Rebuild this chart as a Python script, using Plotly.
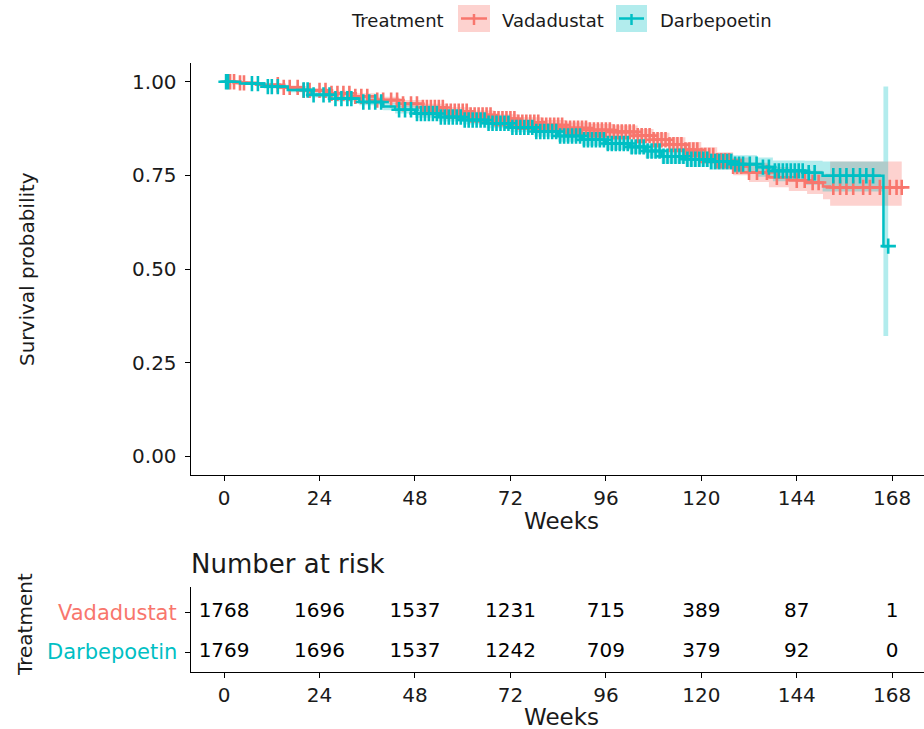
import numpy as np
import plotly.graph_objects as go

# ---------------- data ----------------
groups = ["Vadadustat", "Darbepoetin"]
colors = {"Vadadustat": "#F8766D", "Darbepoetin": "#00BFC4"}
fills = {"Vadadustat": "rgba(248,118,109,0.33)", "Darbepoetin": "rgba(0,191,196,0.30)"}

vad_time = [0, 3, 8, 14, 20, 26, 32, 38, 44, 50, 56, 62, 68, 74, 80, 86, 92, 98, 104, 108,
            112, 116, 120, 124, 128, 132, 137, 142, 146.6, 150.6, 152.4, 170.4]
vad_surv = [1.0, 0.997, 0.992, 0.985, 0.977, 0.969, 0.961, 0.951, 0.941, 0.931, 0.921, 0.911,
            0.901, 0.892, 0.884, 0.876, 0.871, 0.866, 0.856, 0.845, 0.832, 0.818, 0.803, 0.789,
            0.774, 0.758, 0.745, 0.737, 0.731, 0.720, 0.718, 0.718]
vad_lower = [1.0, 0.995, 0.988, 0.980, 0.971, 0.962, 0.953, 0.942, 0.931, 0.921, 0.910, 0.899,
             0.889, 0.879, 0.870, 0.861, 0.855, 0.849, 0.838, 0.826, 0.812, 0.797, 0.781, 0.766,
             0.750, 0.732, 0.718, 0.708, 0.700, 0.686, 0.669, 0.669]
vad_upper = [1.0, 0.999, 0.996, 0.990, 0.983, 0.976, 0.969, 0.960, 0.951, 0.941, 0.932, 0.923,
             0.913, 0.905, 0.898, 0.891, 0.887, 0.883, 0.874, 0.864, 0.852, 0.839, 0.825, 0.812,
             0.798, 0.784, 0.772, 0.766, 0.762, 0.754, 0.787, 0.787]

dar_time = [0, 4, 10, 16, 22, 28, 34, 40, 43, 48, 54, 60, 66, 72, 78, 84, 90, 96, 102, 106,
            110, 116, 122, 128, 134, 138, 146, 150.5, 165.8, 167.0]
dar_surv = [1.0, 0.995, 0.987, 0.978, 0.965, 0.955, 0.946, 0.934, 0.925, 0.915, 0.906, 0.898,
            0.889, 0.878, 0.867, 0.855, 0.845, 0.835, 0.826, 0.815, 0.801, 0.793, 0.787, 0.780,
            0.772, 0.762, 0.757, 0.749, 0.561, 0.561]
dar_lower = [1.0, 0.992, 0.982, 0.972, 0.958, 0.947, 0.937, 0.924, 0.915, 0.904, 0.894, 0.886,
             0.876, 0.865, 0.853, 0.840, 0.829, 0.818, 0.808, 0.796, 0.781, 0.772, 0.765, 0.756,
             0.746, 0.734, 0.725, 0.707, 0.321, 0.321]
dar_upper = [1.0, 0.998, 0.992, 0.984, 0.972, 0.963, 0.955, 0.944, 0.935, 0.926, 0.918, 0.910,
             0.902, 0.891, 0.881, 0.870, 0.861, 0.852, 0.844, 0.834, 0.821, 0.814, 0.809, 0.804,
             0.798, 0.790, 0.789, 0.787, 0.987, 0.987]

vad_censor = [1.5, 2.5, 4.0, 5.0, 13.5, 15.0, 16.5, 18.5, 20.0, 21.5, 24.0, 25.5, 27.0, 28.5,
              30.0, 31.5, 33.0, 34.5, 36.0, 38.5, 40.0, 42.0, 43.5, 45.0, 47.0, 48.5, 50.0,
              51.0, 52.0, 53.0, 54.0, 55.0, 56.0, 57.0, 58.0, 59.0, 60.0, 61.0, 62.0, 63.0,
              64.0, 65.0, 66.0, 67.0, 68.0, 69.0, 70.0, 71.0, 72.0, 73.0, 74.0, 75.0, 76.0,
              77.0, 78.0, 79.0, 80.0, 81.0, 82.0, 83.0, 84.0, 85.0, 86.0, 87.0, 88.0, 89.0,
              90.0, 91.0, 92.0, 93.0, 94.0, 95.0, 96.0, 97.0, 98.0, 99.0, 100.0, 101.0, 102.0,
              103.0, 104.0, 105.0, 106.0, 107.0, 108.0, 109.0, 110.0, 111.0, 112.0, 113.0,
              114.0, 115.0, 116.0, 117.0, 118.0, 119.0, 120.0, 121.0, 122.0, 123.0, 124.0,
              125.0, 126.0, 127.0, 128.0, 129.0, 130.0, 132.0, 134.0, 136.5, 139.0, 141.5,
              144.0, 146.0, 148.0, 149.5, 153.2, 154.9, 156.5, 158.2, 160.7, 162.4, 164.9,
              167.4, 169.1, 170.4]
dar_censor = [0.5, 1.0, 7.0, 8.5, 11.0, 12.0, 13.5, 20.0, 21.0, 22.5, 25.0, 26.5, 28.0, 29.5,
              31.0, 32.0, 35.0, 36.5, 38.0, 39.5, 44.0, 45.5, 47.0, 48.5, 49.5, 50.5, 51.5,
              52.5, 53.5, 54.5, 55.5, 56.5, 57.5, 58.5, 59.5, 60.5, 61.5, 62.5, 63.5, 64.5,
              65.5, 66.5, 67.5, 68.5, 69.5, 70.5, 71.5, 72.5, 73.5, 74.5, 75.5, 76.5, 77.5,
              78.5, 79.5, 80.5, 81.5, 82.5, 83.5, 84.5, 85.5, 86.5, 87.5, 88.5, 89.5, 90.5,
              91.5, 92.5, 93.5, 94.5, 95.5, 96.5, 97.5, 98.5, 99.5, 100.5, 101.5, 102.5,
              103.5, 104.5, 105.5, 106.5, 107.5, 108.5, 109.5, 110.5, 111.5, 112.5, 113.5,
              114.5, 115.5, 116.5, 117.5, 118.5, 119.5, 120.5, 121.5, 122.5, 123.5, 124.5,
              125.5, 126.5, 127.5, 128.5, 129.5, 130.5, 132.2, 133.9, 135.5, 137.0, 138.5,
              139.5, 140.5, 141.5, 142.5, 143.5, 144.5, 145.5, 147.0, 148.5, 153.2, 154.9,
              156.5, 158.2, 159.9, 161.5, 163.2, 167.0]

risk_times = [0, 24, 48, 72, 96, 120, 144, 168]
vad_risk = [1768, 1696, 1537, 1231, 715, 389, 87, 1]
dar_risk = [1769, 1696, 1537, 1242, 709, 379, 92, 0]

week_ticks = [0, 24, 48, 72, 96, 120, 144, 168]
surv_ticks = [0, 0.25, 0.5, 0.75, 1.0]
surv_ticklabels = ["0.00", "0.25", "0.50", "0.75", "1.00"]

curves = {
    "Vadadustat": (vad_time, vad_surv, vad_lower, vad_upper, vad_censor, vad_risk),
    "Darbepoetin": (dar_time, dar_surv, dar_lower, dar_upper, dar_censor, dar_risk),
}

# ---------------- layout geometry ----------------
W, H = 924, 729
FONT = "DejaVu Sans"
def px(x):
    return x / W
def py(y):
    return 1 - y / H

x_dom = [px(190.7), 1.0]
x_range = [-8.4, 176.0]

fig = go.Figure()

# confidence bands
for g in groups:
    t, s, lo, hi, cen, risk = curves[g]
    fig.add_trace(go.Scatter(x=t, y=lo, mode="lines", line=dict(width=0, shape="hv"),
                             hoverinfo="skip", showlegend=False, xaxis="x", yaxis="y"))
    fig.add_trace(go.Scatter(x=t, y=hi, mode="lines", line=dict(width=0, shape="hv"),
                             fill="tonexty", fillcolor=fills[g], hoverinfo="skip",
                             showlegend=False, xaxis="x", yaxis="y"))

# survival step lines and censor marks
for g in groups:
    t, s, lo, hi, cen, risk = curves[g]
    fig.add_trace(go.Scatter(x=t, y=s, mode="lines", line=dict(color=colors[g], width=2.5, shape="hv"),
                             name=g, showlegend=False, xaxis="x", yaxis="y"))
    ta = np.array(t)
    sa = np.array(s)
    idx = np.searchsorted(ta, np.array(cen), side="right") - 1
    fig.add_trace(go.Scatter(x=cen, y=sa[idx], mode="markers",
                             marker=dict(symbol="cross-thin", size=11, line=dict(color=colors[g], width=2.6)),
                             showlegend=False, hoverinfo="skip", xaxis="x", yaxis="y"))

# risk table numbers
row_pos = {"Vadadustat": 2, "Darbepoetin": 1}
for g in groups:
    risk = curves[g][5]
    fig.add_trace(go.Scatter(x=risk_times, y=[row_pos[g]] * len(risk_times), mode="text",
                             text=[str(v) for v in risk], textposition="middle center",
                             textfont=dict(family=FONT, size=20, color="black"),
                             showlegend=False, hoverinfo="skip", xaxis="x2", yaxis="y2"))

axis_common = dict(showgrid=False, zeroline=False, showline=True, linecolor="black", linewidth=1.2,
                   ticks="outside", ticklen=5, tickwidth=1.1, tickcolor="black",
                   tickfont=dict(family=FONT, size=20, color="#1a1a1a"))

fig.update_layout(
    width=W, height=H, margin=dict(l=0, r=0, t=0, b=0),
    paper_bgcolor="white", plot_bgcolor="white", showlegend=False,
    xaxis=dict(domain=x_dom, range=x_range, tickvals=week_ticks, anchor="y", **axis_common),
    yaxis=dict(domain=[py(475), py(63)], range=[-0.05, 1.05], tickvals=surv_ticks,
               ticktext=surv_ticklabels, anchor="x", ticklabelstandoff=4, **axis_common),
    xaxis2=dict(domain=x_dom, range=x_range, tickvals=week_ticks, anchor="y2", **axis_common),
    yaxis2=dict(domain=[py(671.7), py(586.7)], range=[0.51, 2.633], tickvals=[1, 2],
                showticklabels=False, anchor="x2", **axis_common),
)

ann = []
def add_text(text, x, y, size, xanchor="center", yanchor="middle", angle=0, color="#1a1a1a"):
    ann.append(dict(text=text, x=px(x), y=py(y), xref="paper", yref="paper", showarrow=False,
                    xanchor=xanchor, yanchor=yanchor, textangle=angle,
                    font=dict(family=FONT, size=size, color=color)))

add_text("Survival probability", 27, 269, 20, angle=-90)
add_text("Weeks", 561, 521, 23)
add_text("Weeks", 561, 717, 23)
add_text("Number at risk", 189, 564, 26, xanchor="left")
add_text("Treatment", 25, 625, 20, angle=-90)
add_text("Vadadustat", 179, 613, 21, xanchor="right", color=colors["Vadadustat"])
add_text("Darbepoetin", 179, 652, 21, xanchor="right", color=colors["Darbepoetin"])
# legend
add_text("Treatment", 349, 20, 18, xanchor="left")
add_text("Vadadustat", 500, 20, 18, xanchor="left")
add_text("Darbepoetin", 658, 20, 18, xanchor="left")
fig.update_layout(annotations=ann)

shapes = []
for g, (x0, x1) in zip(groups, [(458, 490), (616, 647)]):
    shapes.append(dict(type="rect", xref="paper", yref="paper", x0=px(x0), x1=px(x1), y0=py(32), y1=py(5),
                       fillcolor=fills[g], line=dict(width=0), layer="below"))
    shapes.append(dict(type="line", xref="paper", yref="paper", x0=px(x0 + 3), x1=px(x1 - 3),
                       y0=py(18.5), y1=py(18.5), line=dict(color=colors[g], width=2.5)))
    xm = (x0 + x1) / 2
    shapes.append(dict(type="line", xref="paper", yref="paper", x0=px(xm), x1=px(xm),
                       y0=py(14), y1=py(25), line=dict(color=colors[g], width=2.5)))
fig.update_layout(shapes=shapes)

fig.write_html("out.html", config={"displayModeBar": False},
               post_script="document.body.style.margin='0px';")
